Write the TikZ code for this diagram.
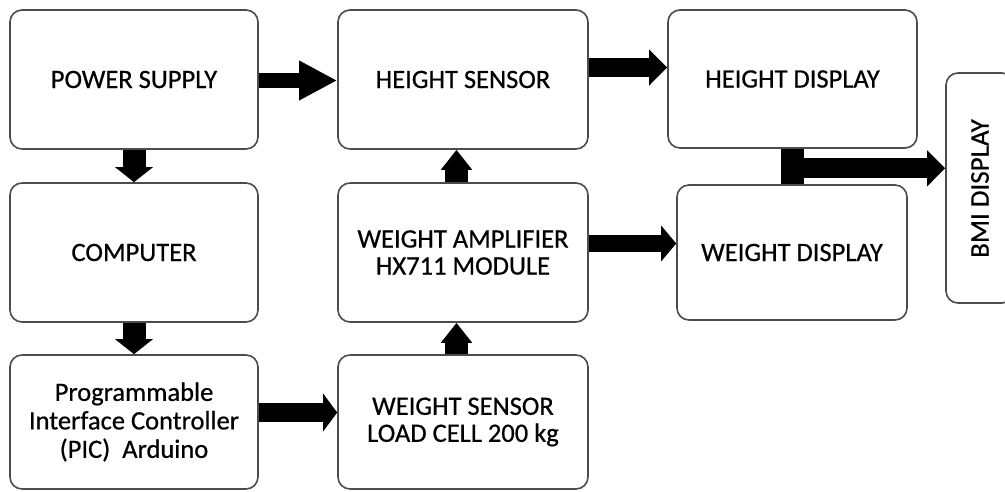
\documentclass[tikz,border=0pt]{standalone}
\usepackage{fontspec}
\setmainfont{Carlito}
\newfontfamily\blkfont[FakeBold=0.6]{Carlito}
\usetikzlibrary{arrows.meta,calc}

\tikzset{
	blk/.style={draw=black!70, line width=1.6pt, rounded corners=12pt, fill=white,
		align=center, inner sep=0pt, font=\blkfont\fontsize{26.5}{27}\selectfont},
	fatarrow/.style={line width=#1, -{Triangle[length=16pt, width=36pt]}},
	uparrow/.style={line width=23pt, -{Triangle[length=20pt, width=30pt]}},
}

\begin{document}
\begin{tikzpicture}[x=1pt, y=-1pt]
			\useasboundingbox (0,0) rectangle (1005,491);
			\node[blk, minimum width=248pt, minimum height=139pt] (power) at (134,79.5) {POWER SUPPLY};
			\node[blk, minimum width=248pt, minimum height=139pt] (computer) at (134,252.5) {COMPUTER};
			\node[blk, minimum width=248pt, minimum height=134pt, font=\blkfont\fontsize{26.5}{28.5}\selectfont] (pic) at (134,422) {Programmable\\Interface Controller\\(PIC)~ Arduino};
			\node[blk, minimum width=250pt, minimum height=139pt] (hsens) at (463,79.5) {HEIGHT SENSOR};
			\node[blk, minimum width=250pt, minimum height=139pt] (amp) at (463,252.5) {WEIGHT AMPLIFIER\\HX711 MODULE};
			\node[blk, minimum width=250pt, minimum height=134pt] (wsens) at (463,422) {WEIGHT SENSOR\\LOAD CELL 200 kg};
			\node[blk, minimum width=249pt, minimum height=138pt] (hdisp) at (792.5,79) {HEIGHT DISPLAY};
			\node[blk, minimum width=230pt, minimum height=135pt] (wdisp) at (792,252.5) {WEIGHT DISPLAY};
			\node[blk, minimum width=68pt, minimum height=230pt] (bmi) at (980,188) {};
			\node[rotate=90, font=\blkfont\fontsize{27}{27}\selectfont] (bmitext) at ([yshift=-0.5pt]bmi.center) {BMI DISPLAY};

			\draw[line width=15pt, -{Triangle[length=38pt, width=37pt]}] ([yshift=-1pt]power.east) -- ([yshift=-1pt]power.east -| hsens.west);
			\draw[fatarrow=19pt, -{Triangle[length=18pt, width=35pt]}] ([yshift=12pt]hsens.east) -- ([yshift=12pt]hsens.east -| hdisp.west);
			\draw[line width=23pt, -{Triangle[length=15pt, width=37pt]}] (power.south) -- (computer.north);
			\draw[line width=23pt, -{Triangle[length=15pt, width=37pt]}] (computer.south) -- (pic.north);
			\draw[uparrow] ([xshift=-6.5pt]amp.north) -- ([xshift=-6.5pt]hsens.south);
			\draw[uparrow] ([xshift=-6.5pt]wsens.north) -- ([xshift=-6.5pt]amp.south);
			\draw[fatarrow=19pt, -{Triangle[length=14pt, width=37pt]}] ([yshift=9.5pt]pic.east) -- ([yshift=9.5pt]pic.east -| wsens.west);
			\draw[fatarrow=17pt, -{Triangle[length=15pt, width=35pt]}] ([yshift=9pt]amp.east) -- ([yshift=9pt]amp.east -| wdisp.west);

			\draw[line width=23pt] (hdisp.south) -- (hdisp.south |- wdisp.north);
			\coordinate (join) at ($(hdisp.south)!0.55!(hdisp.south |- wdisp.north)$);
			\draw[fatarrow=20pt, -{Triangle[length=18pt, width=35pt]}] (join) -- (join -| bmi.west);
		\end{tikzpicture}
\end{document}
